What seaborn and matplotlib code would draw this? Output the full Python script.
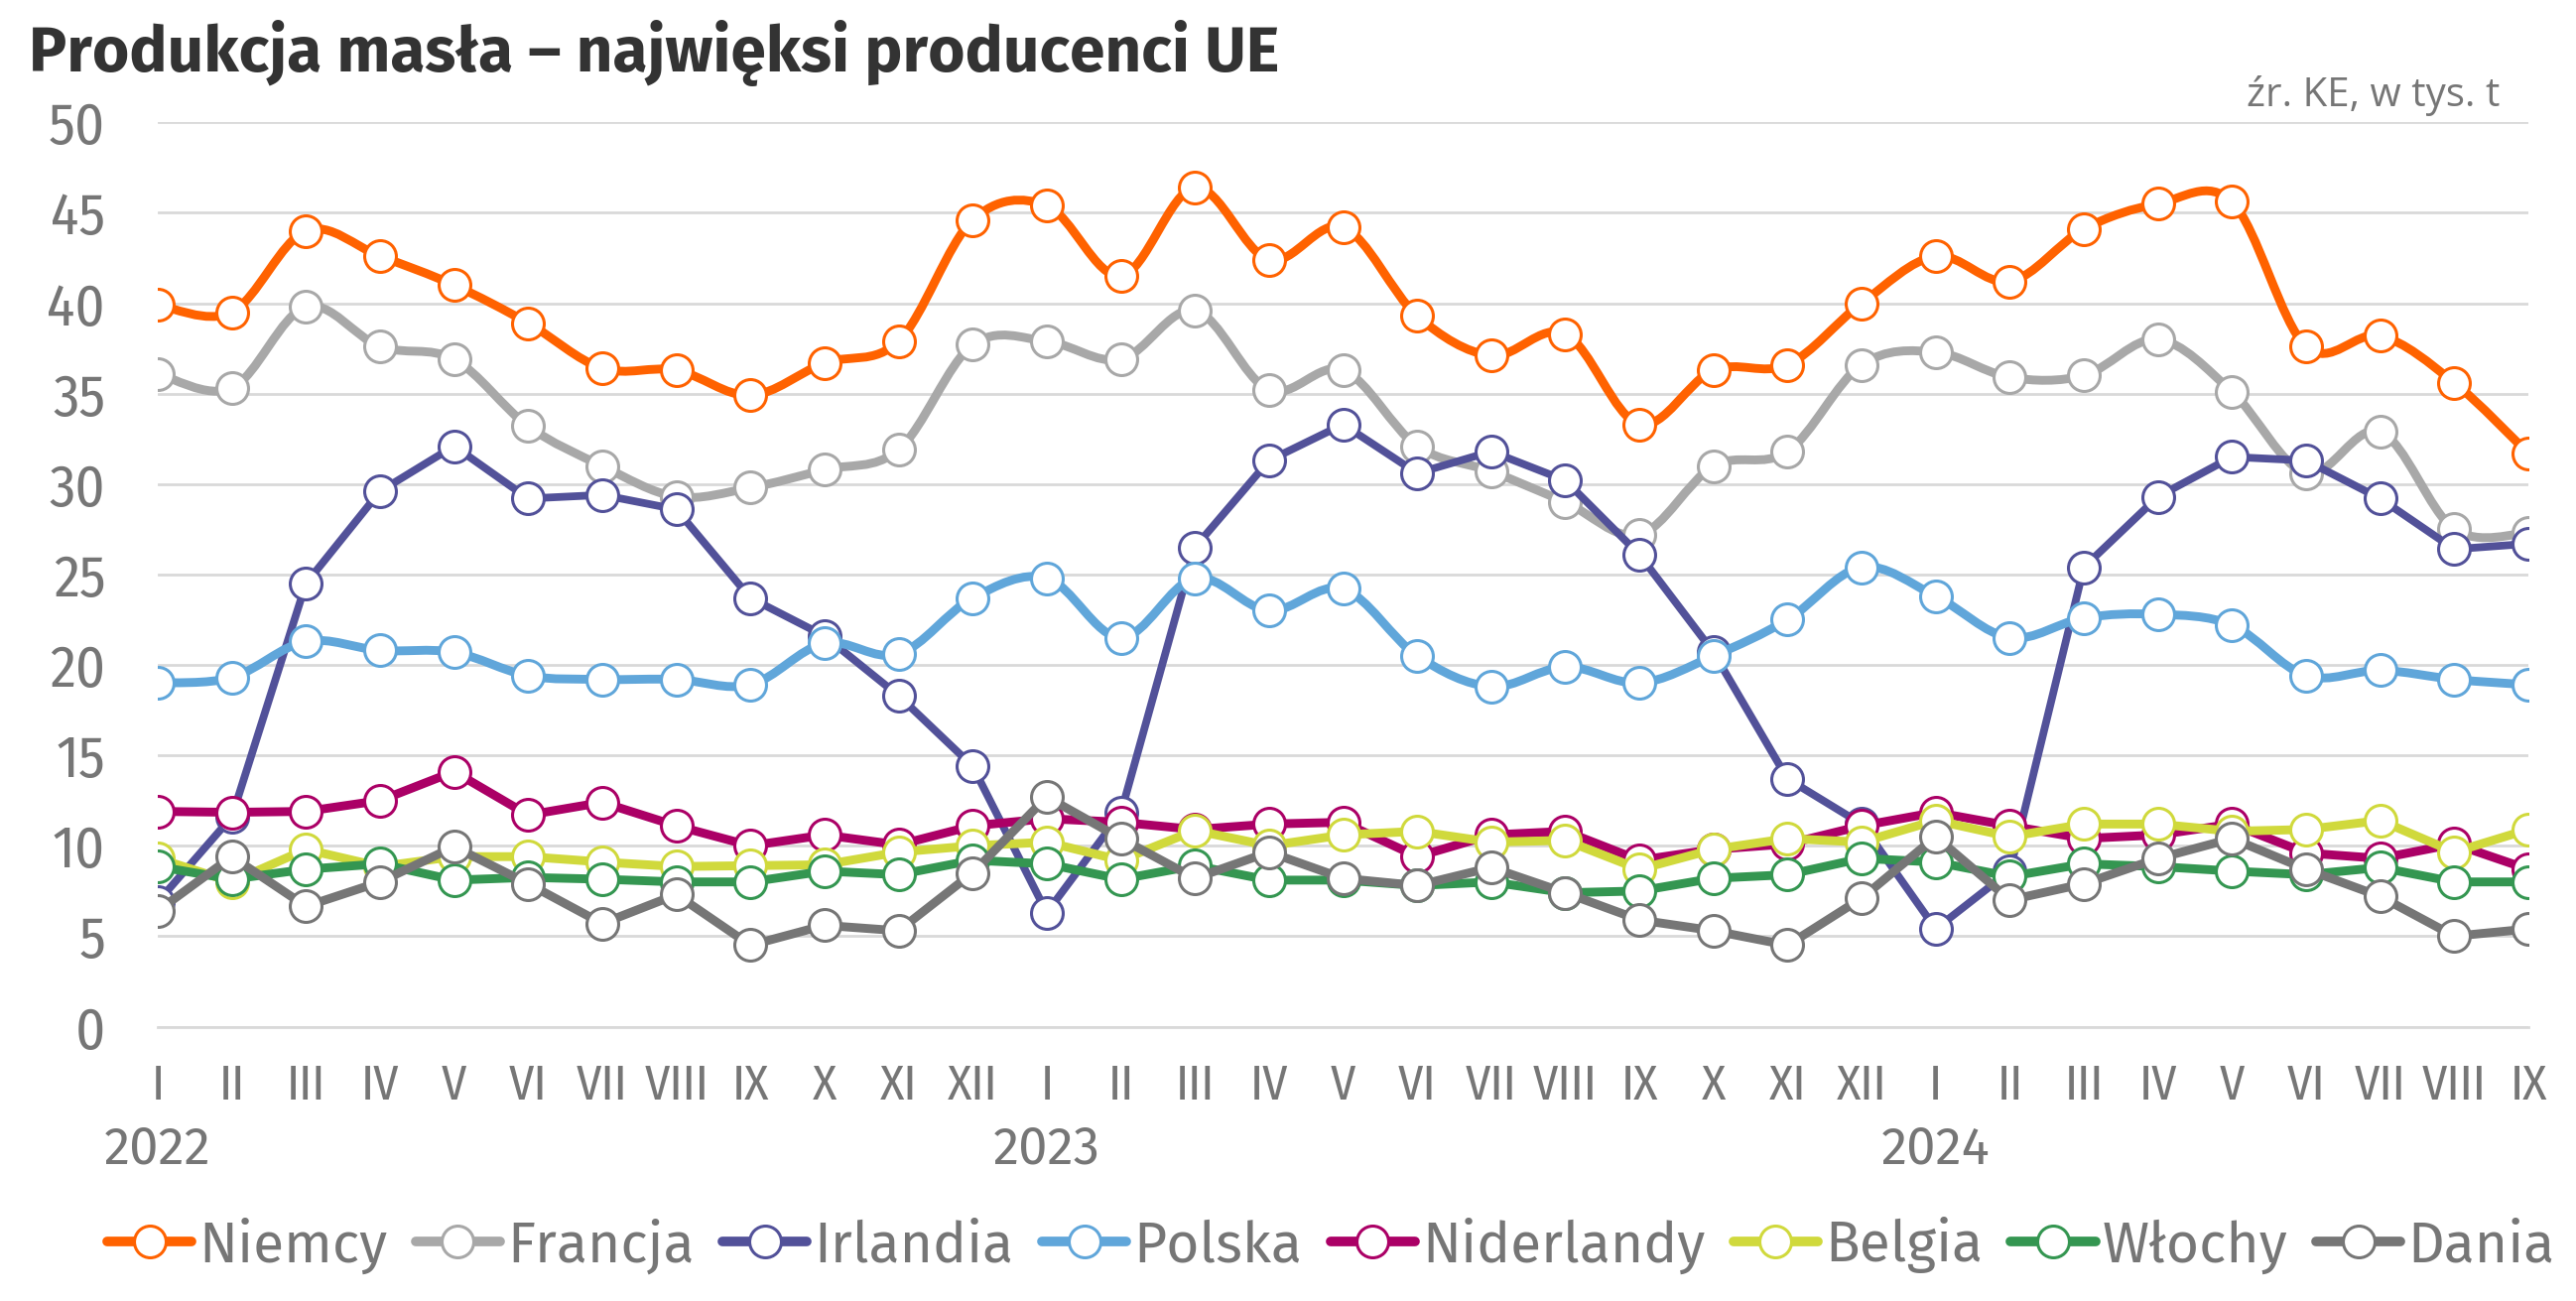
import numpy as np
import pandas as pd
import matplotlib
matplotlib.use("Agg")
import matplotlib.pyplot as plt
from matplotlib.path import Path
from matplotlib.patches import PathPatch
from matplotlib.lines import Line2D
import matplotlib.transforms as mtransforms
import seaborn as sns

#%% dane (tys. t), I 2022 - IX 2024
roman = ['I', 'II', 'III', 'IV', 'V', 'VI', 'VII', 'VIII', 'IX', 'X', 'XI', 'XII']
month_labels = (roman * 3)[:33]
years = ['2022', '2023', '2024']
year_pos = [0, 12, 24]

niemcy = [39.9, 39.5, 44.0, 42.6, 41.0, 38.9, 36.4, 36.3, 34.9, 36.7, 37.9, 44.6,
          45.4, 41.5, 46.4, 42.4, 44.2, 39.3, 37.1, 38.3, 33.3, 36.3, 36.6, 40.0,
          42.6, 41.2, 44.1, 45.5, 45.6, 37.6, 38.2, 35.6, 31.7]
francja = [36.1, 35.3, 39.8, 37.6, 36.9, 33.2, 31.0, 29.3, 29.8, 30.8, 31.9, 37.7,
           37.9, 36.9, 39.6, 35.2, 36.3, 32.1, 30.7, 29.0, 27.2, 31.0, 31.8, 36.6,
           37.3, 35.9, 36.0, 38.0, 35.1, 30.6, 32.9, 27.5, 27.3]
irlandia = [6.9, 11.6, 24.5, 29.6, 32.1, 29.2, 29.4, 28.6, 23.7, 21.6, 18.3, 14.4,
            6.3, 11.8, 26.5, 31.3, 33.3, 30.6, 31.8, 30.2, 26.1, 20.7, 13.7, 11.2,
            5.4, 8.6, 25.4, 29.3, 31.5, 31.3, 29.2, 26.4, 26.7]
polska = [19.0, 19.3, 21.3, 20.8, 20.7, 19.4, 19.2, 19.2, 18.9, 21.2, 20.6, 23.7,
          24.8, 21.5, 24.8, 23.0, 24.2, 20.5, 18.8, 19.9, 19.0, 20.5, 22.5, 25.4,
          23.8, 21.5, 22.6, 22.8, 22.2, 19.4, 19.7, 19.2, 18.9]
niderlandy = [11.9, 11.85, 11.9, 12.5, 14.1, 11.7, 12.4, 11.1, 10.0, 10.6, 10.05, 11.1,
              11.5, 11.3, 10.9, 11.2, 11.3, 9.4, 10.6, 10.8, 9.2, 9.8, 10.1, 11.1,
              11.85, 11.1, 10.4, 10.6, 11.2, 9.6, 9.3, 10.1, 8.7]
belgia = [9.3, 8.0, 9.8, 8.85, 9.4, 9.4, 9.1, 8.85, 8.9, 8.95, 9.65, 10.0,
          10.2, 9.2, 10.85, 10.0, 10.6, 10.8, 10.2, 10.3, 8.7, 9.8, 10.4, 10.2,
          11.4, 10.5, 11.2, 11.2, 10.8, 10.9, 11.4, 9.65, 10.9]
wlochy = [8.85, 8.15, 8.7, 9.0, 8.1, 8.25, 8.15, 8.0, 8.0, 8.6, 8.4, 9.2,
          9.0, 8.15, 8.9, 8.1, 8.1, 7.8, 8.0, 7.4, 7.5, 8.2, 8.4, 9.3,
          9.1, 8.3, 9.0, 8.85, 8.6, 8.4, 8.8, 8.0, 8.0]
dania = [6.4, 9.4, 6.65, 8.0, 9.95, 7.9, 5.7, 7.3, 4.5, 5.6, 5.3, 8.5,
         12.7, 10.4, 8.2, 9.65, 8.2, 7.8, 8.8, 7.4, 5.9, 5.3, 4.5, 7.1,
         10.5, 7.0, 7.9, 9.3, 10.4, 8.7, 7.2, 5.0, 5.4]

kraje = ['Niemcy', 'Francja', 'Irlandia', 'Polska', 'Niderlandy', 'Belgia', 'Włochy', 'Dania']
serie = [niemcy, francja, irlandia, polska, niderlandy, belgia, wlochy, dania]
kolory = ['#FF6200', '#A8A8A8', '#525199', '#60A6DA', '#AB0066', '#D0D93C', '#349651', '#767676']
wygladzone = ['Niemcy', 'Francja', 'Polska']

df = pd.DataFrame({'kraj': np.repeat(kraje, 33),
                   'm': np.tile(np.arange(33), len(kraje)),
                   'v': np.concatenate(serie)})

#%% linia: wygladzona jak w Excelu (Catmull-Rom -> Bezier) albo prosta
def make_path(x, y, smooth):
    pts = np.column_stack([x, y]).astype(float)
    if not smooth:
        return Path(pts)
    n = len(pts)
    verts = [pts[0]]
    codes = [Path.MOVETO]
    for i in range(n - 1):
        p0 = pts[max(i - 1, 0)]
        p1 = pts[i]
        p2 = pts[i + 1]
        p3 = pts[min(i + 2, n - 1)]
        verts += [p1 + (p2 - p0) / 6, p2 - (p3 - p1) / 6, p2]
        codes += [Path.CURVE4] * 3
    return Path(verts, codes)

#%% wykres
sns.set_style("white")
waski = ['Fira Sans Condensed', 'Lato', 'DejaVu Sans']
szeroki = ['Fira Sans', 'Lato', 'DejaVu Sans']
plt.rcParams['font.family'] = waski
szary = '#767676'
siatka = '#D9D9D9'

fig = plt.figure(figsize=(25.96, 13.11), dpi=100)
ax = fig.add_axes([159 / 2596, 1 - 1034.5 / 1311, (2548 - 159) / 2596, (1034.5 - 123.3) / 1311])

for i, (kraj, kol) in enumerate(zip(kraje, kolory)):
    d = df[df['kraj'] == kraj]
    lw = 5.6 if kraj == 'Irlandia' else 6.4
    ax.add_patch(PathPatch(make_path(d['m'], d['v'], kraj in wygladzone), facecolor='none',
                           edgecolor=kol, lw=lw, capstyle='round', joinstyle='round',
                           zorder=3 + 2 * i))
    sns.lineplot(data=d, x='m', y='v', ax=ax, color=kol, lw=0, marker='o', ms=23,
                 markerfacecolor='white', markeredgecolor=kol, markeredgewidth=2.2,
                 zorder=4 + 2 * i, legend=False)

ax.set_xlim(0, 32)
ax.set_ylim(0, 50)
ax.set_yticks(range(0, 51, 5))
ax.set_xticks(range(33))
ax.set_xticklabels(month_labels)
ax.set_xlabel('')
ax.set_ylabel('')
ax.yaxis.grid(True, color=siatka, lw=2)
ax.set_axisbelow(True)
for s in ['top', 'right', 'left']:
    ax.spines[s].set_visible(False)
ax.spines['bottom'].set_color(siatka)
ax.spines['bottom'].set_linewidth(2)
ax.spines['bottom'].set_zorder(1)
ax.tick_params(axis='y', length=0, pad=38, labelsize=42, labelcolor=szary)
ax.tick_params(axis='x', direction='in', length=11.5, width=1.6, color=siatka,
               pad=26, labelsize=36, labelcolor=szary)

trans = mtransforms.blended_transform_factory(ax.transData, ax.transAxes)
for rok, p in zip(years, year_pos):
    ax.text(p, -0.137, rok, transform=trans, ha='center', va='center', fontsize=38,
            color=szary, family=szeroki)

fig.text(29 / 2596, 1 - 72 / 1311, 'Produkcja masła – najwięksi producenci UE',
         fontsize=46, fontweight='bold', color='#333333', ha='left', va='baseline',
         family=szeroki)
fig.text(2519 / 2596, 1 - 107 / 1311, 'źr. KE, w tys. t', fontsize=29, color=szary,
         ha='right', va='baseline', family=['Open Sans', 'Lato', 'DejaVu Sans'])

uchwyty = [Line2D([0], [0], color=k, lw=7, marker='o', ms=23, markerfacecolor='white',
                  markeredgecolor=k, markeredgewidth=2.2, solid_capstyle='round')
           for k in kolory]
leg = fig.legend(uchwyty, kraje, loc='center', bbox_to_anchor=(0.5166, 1 - 1255 / 1311),
                 ncol=8, frameon=False, handlelength=1.5, handletextpad=0.12,
                 columnspacing=0.5, borderaxespad=0,
                 prop={'family': szeroki, 'size': 41})
for t in leg.get_texts():
    t.set_color(szary)

fig.savefig('out.png', dpi=100)
